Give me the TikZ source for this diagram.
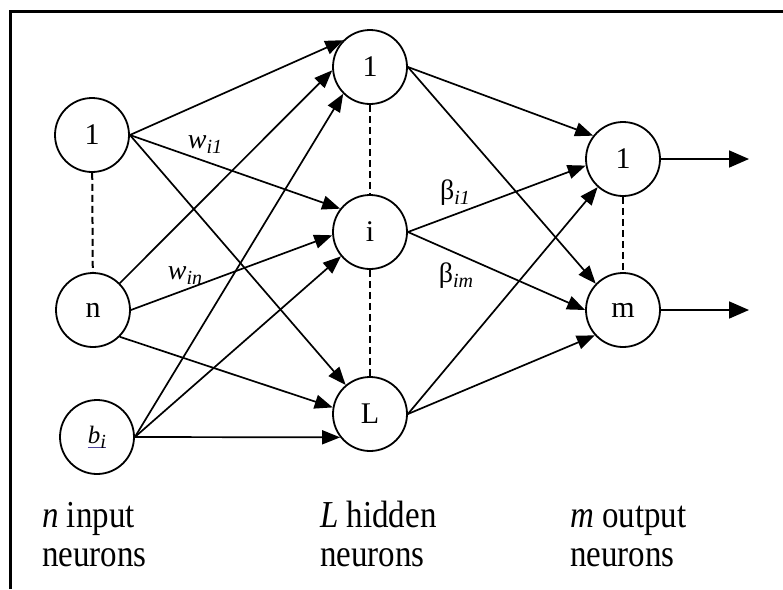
\documentclass[tikz,border=0pt]{standalone}
\usepackage{fontspec}
\setmainfont{Liberation Serif}
\usetikzlibrary{arrows.meta}

\definecolor{linkblue}{RGB}{80,70,160}
% underline in link colour, as in the bias label
\newcommand{\linkline}[1]{\setbox0=\hbox{#1}\rlap{\textcolor{linkblue}{\rule[-5pt]{\wd0}{1.3pt}}}\box0}
\newcommand{\sub}[1]{\raisebox{-5pt}{\fontsize{20}{20}\selectfont\itshape #1}}
\newcommand{\tall}[1]{\scalebox{0.97}[1.12]{#1}}

\begin{document}
\begin{tikzpicture}[x=1pt,y=-1pt,
    neuron/.style={draw,circle,line width=1.8pt,minimum size=74pt,inner sep=0pt,
      font=\fontsize{30}{30}\selectfont},
    conn/.style={line width=1.7pt,-{Triangle[length=18pt,width=14pt]}},
    dots/.style={line width=2pt,dash pattern=on 7pt off 4pt},
    wlabel/.style={font=\fontsize{28}{28}\selectfont,inner sep=0pt},
    layer/.style={anchor=base west,inner sep=0pt,
      font=\fontsize{34}{38}\selectfont}]
    \useasboundingbox (0,0) rectangle (783,589);
    % frame (cut on right and bottom)
    \draw[line width=3pt] (10,589) -- (10,11) -- (783,11);

    % input neurons
    \node[neuron] (in1) at (92,135) {1};
    \node[neuron] (inn) at (93,310) {n};
    \node[neuron] (inb) at (97,437) {\linkline{{\fontsize{25}{25}\selectfont\itshape b}\sub{i}}};
    % hidden neurons
    \node[neuron] (h1) at (370,67) {1};
    \node[neuron] (hi) at (370,232) {i};
    \node[neuron] (hL) at (370,414) {L};
    % output neurons
    \node[neuron] (o1) at (623,159) {1};
    \node[neuron] (om) at (623,310) {m};
    \coordinate (y1) at (749,159);
    \coordinate (ym) at (749,310);

    \draw[dots] (in1) -- (inn);
    \draw[dots] (h1) -- (hi);
    \draw[dots] (hi) -- (hL);
    \draw[dots] (o1) -- (om);

    % input -> hidden
    \draw[conn] (in1.east) -- (h1.135);
    \draw[conn] (in1.east) -- (hi.142);
    \draw[conn] (in1.east) -- (hL.130);
    \draw[conn] (inn.45) -- (h1.185);
    \draw[conn] (inn.east) -- (hi.185);
    \draw[conn] (inn.-45) -- (hL.170);
    \draw[conn] (inb.east) -- (h1.225);
    \draw[conn] (inb.east) -- (hi.220);
    \draw[conn] (inb.east) -- (hL.218);
    % hidden -> output
    \draw[conn] (h1.east) -- (o1.142);
    \draw[conn] (hi.east) -- (o1.190);
    \draw[conn] (hL.east) -- (o1.228);
    \draw[conn] (h1.east) -- (om.136);
    \draw[conn] (hi.east) -- (om.180);
    \draw[conn] (hL.east) -- (om.222);
    \draw[conn,-{Triangle[length=20pt,width=17pt]}] (o1.east) -- (y1);
    \draw[conn,-{Triangle[length=20pt,width=17pt]}] (om.east) -- (ym);

    % weights
    \node[wlabel] (wi1) at (205,145) {\itshape w\sub{i1}};
    \node[wlabel] (win) at (185,276) {\itshape w\sub{in}};
    \node[wlabel] (bi1) at (455,193) {β\sub{i1}};
    \node[wlabel] (bim) at (456,276) {β\sub{im}};

    % layer names
    \node[layer] (inlab) at (42,527) {\tall{\textit{n} input}};
    \node[layer] (inlab2) at (42,566) {\tall{neurons}};
    \node[layer] (hidlab) at (320,527) {\tall{\textit{L} hidden}};
    \node[layer] (hidlab2) at (320,566) {\tall{neurons}};
    \node[layer] (outlab) at (570,527) {\tall{\textit{m} output}};
    \node[layer] (outlab2) at (570,566) {\tall{neurons}};
\end{tikzpicture}
\end{document}
